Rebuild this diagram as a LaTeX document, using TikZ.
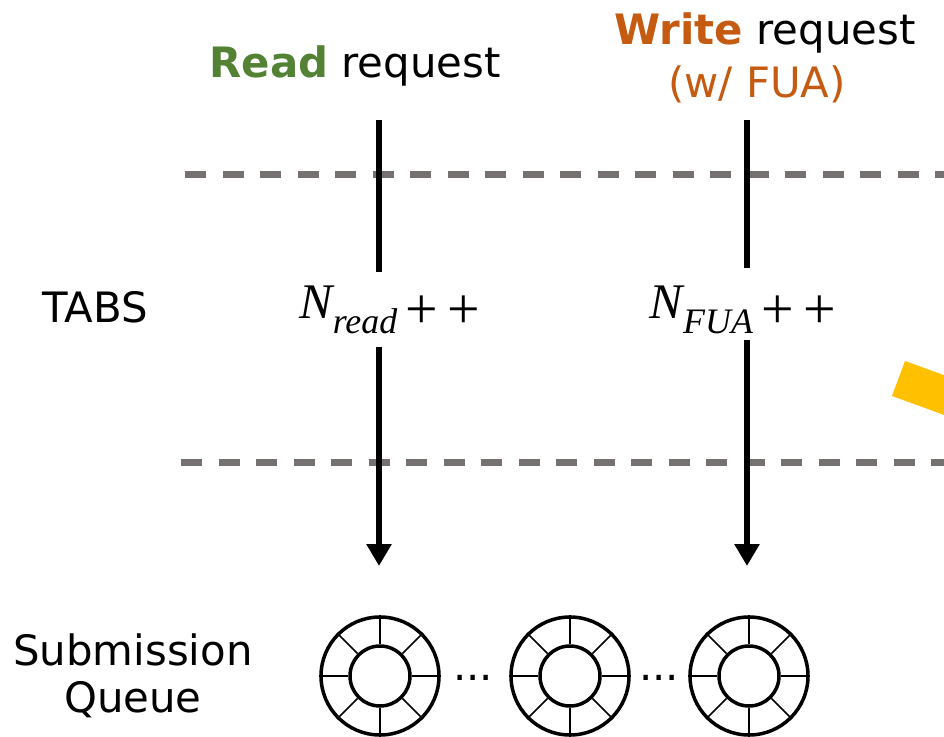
\documentclass[tikz,border=0pt]{standalone}
\usepackage{fontspec}
\setmainfont{DejaVu Sans}
\newfontfamily\mathlike{Liberation Serif}
\usetikzlibrary{arrows.meta}
\definecolor{slidegray}{HTML}{767171}
\definecolor{readgreen}{HTML}{548235}
\definecolor{writeorange}{HTML}{C55A11}
\definecolor{gold}{HTML}{FFC000}
\newcommand{\subsc}[1]{\raisebox{-0.32em}{\fontsize{36}{40}\selectfont #1}}
\newcommand{\plusplus}{\,\raisebox{-10bp}{\upshape\fontsize{58}{60}\selectfont +\,+}}
\tikzset{
  lbl/.style={inner sep=0pt, anchor=base, font=\fontsize{42}{47}\selectfont},
  cnt/.style={inner xsep=4pt, inner ysep=0pt, anchor=base, font=\fontsize{50}{54}\selectfont\mathlike},
  sep/.style={slidegray, line width=7bp, dash pattern=on 21bp off 16.5bp},
  flow/.style={line width=6bp, black},
  flowarrow/.style={flow, -{Triangle[width=24bp,length=22bp]}},
  ring/.style={circle, draw, line width=3.5bp, minimum size=118bp, inner sep=0pt},
  hub/.style={circle, draw, line width=3.5bp, minimum size=60bp, inner sep=0pt},
  spoke/.style={line width=1.6bp},
  dots/.style={inner sep=0pt, anchor=base, font=\fontsize{42}{47}\selectfont}
}
\begin{document}
\begin{tikzpicture}[x=1bp,y=-1bp]
\useasboundingbox (0,0) rectangle (944,737);
% separators
\coordinate (s1a) at (185,174); \coordinate (s1b) at (950,174);
\coordinate (s2a) at (181,462); \coordinate (s2b) at (950,462);
\draw[sep] (s1a) -- (s1b);
\draw[sep] (s2a) -- (s2b);
% yellow arrow fragment
\fill[gold] (905,361) -- (960,381) -- (947,416) -- (892,396) -- cycle;
% labels
\node[lbl] (readlbl) at (355,78) {\textbf{\color{readgreen}Read} request};
\node[lbl] (writelbl) at (765,45) {\textbf{\color{writeorange}Write} request};
\node[lbl, text=writeorange] (fualbl) at (757,97) {(w/ FUA)};
\node[lbl] (tabs) at (95,322) {TABS};
\node[lbl, align=center, anchor=center] (sq) at (133,676) {Submission\\Queue};
% counters
\node[cnt, text height=46bp, text depth=29bp] (nread) at (390,318)
  {\itshape N\subsc{read}\plusplus};
\node[cnt, text height=50bp, text depth=22bp] (nfua) at (743,318)
  {\itshape N\subsc{FUA}\plusplus};
% flow lines
\coordinate (rtop) at (379,120); \coordinate (rend) at (379,566);
\coordinate (wtop) at (747,120); \coordinate (wend) at (747,566);
\draw[flow] (rtop) -- (rtop |- nread.north);
\draw[flowarrow] (rtop |- nread.south) -- (rend);
\draw[flow] (wtop) -- (wtop |- nfua.north);
\draw[flowarrow] (wtop |- nfua.south) -- (wend);
% rings
\foreach \n/\x in {r1/380, r2/570, r3/749}{
  \node[ring] (\n) at (\x,676) {};
  \node[hub] (\n h) at (\x,676) {};
  \foreach \a in {0,45,...,315}{
    \draw[spoke] (\n h.\a) -- (\n.\a);
  }
}
\node[dots] (d1) at (473,680) {...};
\node[dots] (d2) at (659,680) {...};
\end{tikzpicture}
\end{document}
